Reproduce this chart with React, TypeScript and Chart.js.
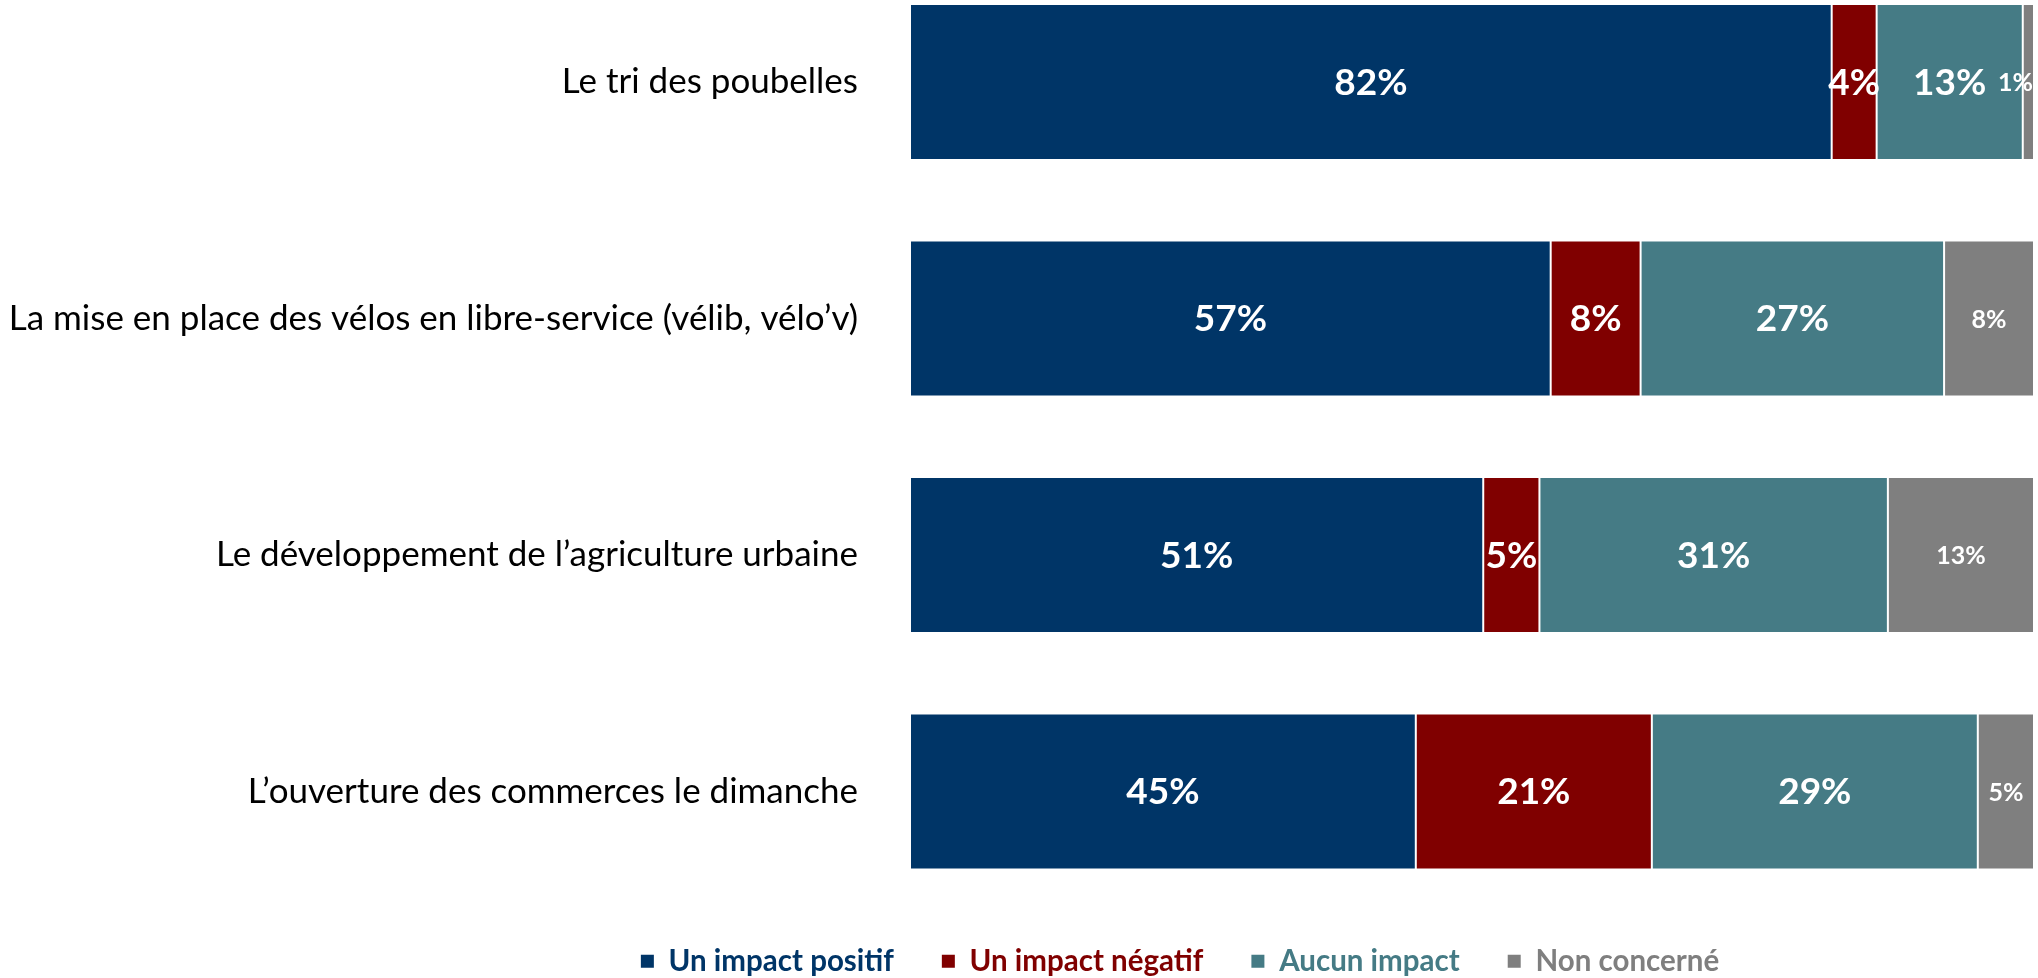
import React, { useEffect, useRef } from "react";
import { Chart, registerables } from "chart.js";

Chart.register(...registerables);

const categories = [
  "Le tri des poubelles",
  "La mise en place des vélos en libre-service (vélib, vélo’v)",
  "Le développement de l’agriculture urbaine",
  "L’ouverture des commerces le dimanche",
];
const seriesNames = ["Un impact positif", "Un impact négatif", "Aucun impact", "Non concerné"];
const positif = [82, 57, 51, 45];
const negatif = [4, 8, 5, 21];
const aucun = [13, 27, 31, 29];
const nonConcerne = [1, 8, 13, 5];
const seriesColors = ["#003567", "#800000", "#457B85", "#7F7F7F"];

const valueLabels = {
  id: "valueLabels",
  afterDatasetsDraw(chart: any) {
    const { ctx, chartArea } = chart;
    ctx.save();
    ctx.fillStyle = "#ffffff";
    ctx.textAlign = "center";
    ctx.textBaseline = "middle";
    chart.data.datasets.forEach((ds: any, di: number) => {
      const meta = chart.getDatasetMeta(di);
      const size = di === 3 ? 25 : 37;
      ctx.font = `bold ${size}px Lato`;
      meta.data.forEach((bar: any, i: number) => {
        const p = bar.getProps(["x", "y", "base"], true);
        const text = `${ds.data[i]}%`;
        const w = ctx.measureText(text).width;
        let x = (p.x + p.base) / 2;
        x = Math.min(x, chartArea.right - w / 2 - 1);
        ctx.fillText(text, x, p.y + 1);
      });
    });
    ctx.restore();
  },
};

// shifts the legend box so that it is centred where the reference centres it
const legendShift = {
  id: "legendShift",
  afterLayout(chart: any) {
    if (chart.legend) {
      chart.legend.left = 326;
    }
  },
};

export default function App() {
  const ref = useRef<HTMLCanvasElement>(null);
  useEffect(() => {
    if (!ref.current) return;
    const values = [positif, negatif, aucun, nonConcerne];
    const chart = new Chart(ref.current, {
      type: "bar",
      data: {
        labels: categories,
        datasets: seriesNames.map((name, i) => ({
          label: name,
          data: values[i],
          backgroundColor: seriesColors[i],
          borderColor: "#ffffff",
          borderWidth: 1,
          borderSkipped: false,
          categoryPercentage: 0.66,
          barPercentage: 1,
          clip: false as any,
        })),
      },
      options: {
        indexAxis: "y",
        responsive: false,
        animation: false,
        devicePixelRatio: 1,
        layout: { padding: { left: 0, right: 4, top: 82, bottom: 0 } },
        scales: {
          x: {
            stacked: true,
            min: 0,
            max: 100,
            display: true,
            ticks: { display: false },
            grid: { display: false, drawTicks: false },
            border: { display: false },
            afterFit: (s: any) => {
              s.height = 107;
            },
          },
          y: {
            stacked: true,
            offset: false,
            grid: { display: false, drawTicks: false },
            border: { display: false },
            ticks: {
              padding: 52,
              color: "#000000",
              font: { family: "Lato", size: 35 },
            },
            afterFit: (s: any) => {
              s.width = 910;
            },
          },
        },
        plugins: {
          tooltip: { enabled: false },
          legend: {
            position: "bottom",
            align: "center",
            labels: {
              boxWidth: 13,
              boxHeight: 13,
              padding: 48,
              font: { family: "Lato", size: 29.5, weight: "bold" },
              generateLabels: (c: any) => {
                const items = (Chart.defaults.plugins.legend.labels as any).generateLabels(c);
                return items.map((it: any, i: number) => ({
                  ...it,
                  fontColor: seriesColors[i],
                  lineWidth: 0,
                }));
              },
            },
          },
        },
      },
      plugins: [valueLabels, legendShift],
    });
    return () => chart.destroy();
  }, []);

  return (
    <div
      style={{
        position: "fixed",
        left: 0,
        top: 0,
        width: 2038,
        height: 978,
        overflow: "hidden",
        background: "#ffffff",
      }}
    >
      <canvas ref={ref} width={2038} height={986} style={{ display: "block", width: 2038, height: 986 }} />
    </div>
  );
}
